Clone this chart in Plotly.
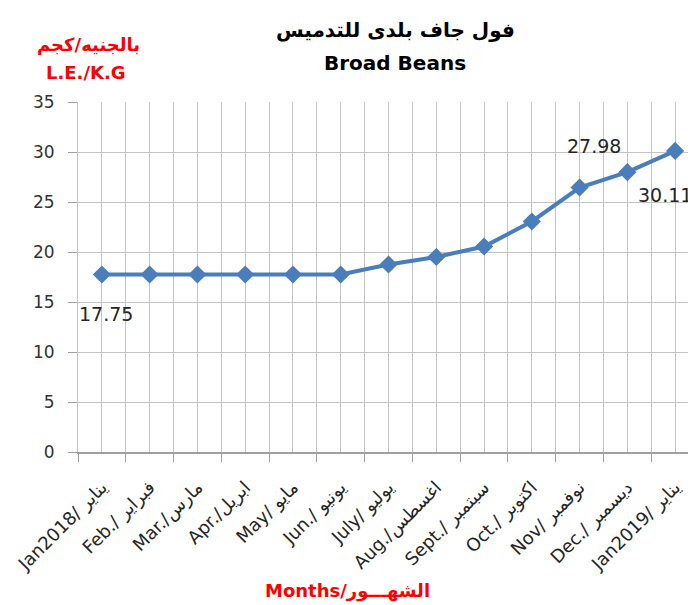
import plotly.graph_objects as go

months = ["Jan2018/ يناير", "Feb./ فبراير", "Mar./مارس", "Apr./ابريل", "May/ مايو",
          "Jun./ يونيو", "July/ يوليو", "Aug./اغسطس", "Sept./ سبتمبر", "Oct./ اكتوبر",
          "Nov/ نوفمبر", "Dec./ ديسمبر", "Jan2019/ يناير"]
prices = [17.75, 17.75, 17.75, 17.75, 17.75, 17.75, 18.75, 19.5, 20.55, 23.05, 26.45, 27.98, 30.11]
labelled = {0: "17.75", 11: "27.98", 12: "30.11"}
y_ticks = [0, 5, 10, 15, 20, 25, 30, 35]

x = list(range(len(months)))
BLUE = "#4A7EBB"
GRID = "#C4C4C4"
FONT = "DejaVu Sans"

fig = go.Figure()
fig.add_trace(go.Scatter(
    x=x, y=prices, mode="lines+markers",
    line=dict(color=BLUE, width=4),
    marker=dict(symbol="diamond", size=14, color=BLUE),
    hoverinfo="skip", showlegend=False,
))

shifts = {0: (4, -39), 11: (-33, 26), 12: (-10, -44)}
for i, txt in labelled.items():
    dx, dy = shifts[i]
    fig.add_annotation(x=x[i], y=prices[i], text=txt, showarrow=False,
                       xshift=dx, yshift=dy, xanchor="center", yanchor="middle",
                       font=dict(family=FONT, size=19, color="#262626"))

# titles (paper coords relative to the plot area)
def note(px, py, text, size, color):
    fig.add_annotation(xref="paper", yref="paper",
                       x=(px - 78) / 621, y=(452 - py) / 350,
                       xanchor="center", yanchor="middle",
                       text=text, showarrow=False,
                       font=dict(family=FONT, size=size, color=color))

note(395, 30, "<b>فول جاف بلدى للتدميس</b>", 20, "#000000")
note(395, 63, "<b>Broad Beans</b>", 20, "#000000")
note(88, 44, "<b>بالجنيه/كجم</b>", 18, "#FF0000")
note(86, 72, "<b>L.E./K.G</b>", 18, "#FF0000")
note(347, 591, "<b>Months/الشهـــور</b>", 18, "#FF0000")

fig.update_layout(
    width=696, height=605,
    margin=dict(l=70, r=5, t=94, b=161),
    paper_bgcolor="white", plot_bgcolor="white",
    font=dict(family=FONT, color="#333333"),
)
fig.update_xaxes(
    range=[-0.5, len(months) - 0.5],
    tickmode="array", tickvals=x, ticktext=months, tickangle=-45,
    tickfont=dict(family=FONT, size=18, color="#262626"),
    ticks="", showgrid=True, gridcolor=GRID, gridwidth=1,
    ticklabelstandoff=16,
    minor=dict(tickmode="array", tickvals=[i - 0.5 for i in range(len(months) + 1)],
               ticks="outside", ticklen=8, tickcolor="#A0A0A0", showgrid=True,
               gridcolor=GRID, gridwidth=1),
    showline=True, linecolor="#A0A0A0", linewidth=1.5, zeroline=False,
)
fig.update_yaxes(
    range=[0, 35], tickmode="array", tickvals=y_ticks,
    tickfont=dict(family=FONT, size=17, color="#333333"),
    ticks="outside", ticklen=9, tickcolor="#A0A0A0",
    showgrid=True, gridcolor=GRID, gridwidth=1,
    showline=True, linecolor=GRID, zeroline=False,
    ticklabelstandoff=10,
)

fig.write_html("out.html")
